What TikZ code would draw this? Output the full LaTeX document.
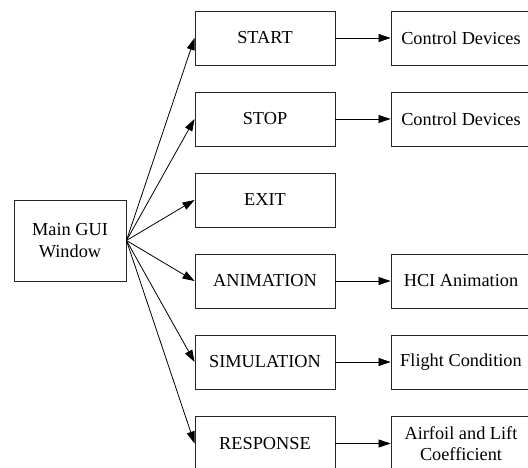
\documentclass[tikz,border=0pt]{standalone}
\usepackage{fontspec}
\setmainfont{Liberation Serif}
\usetikzlibrary{arrows.meta}
\begin{document}
\begin{tikzpicture}[x=1pt,y=-1pt,
  box/.style={draw=black!85, line width=0.9pt, minimum width=140pt, minimum height=54pt, inner sep=0pt, align=center,
    font=\fontsize{18.3}{21.5}\selectfont},
  mainbox/.style={box, minimum width=112pt, minimum height=81pt},
  arr/.style={draw=black, line width=0.8pt, -{Triangle[length=12pt,width=8pt]}}]
\clip (0,0) rectangle (528,468);
\fill[white] (0,0) rectangle (528,468);
\node[mainbox] (main) at (70,240.5) {Main GUI\\Window};
\node[box] (start) at (265,38) {START};
\node[box] (stop) at (265,119) {STOP};
\node[box] (exit) at (265,200) {EXIT};
\node[box] (anim) at (265,281) {ANIMATION};
\node[box] (sim) at (265,362) {SIMULATION};
\node[box] (resp) at (265,443.5) {RESPONSE};
\node[box] (cd1) at (461,38) {Control Devices};
\node[box] (cd2) at (461,119) {Control Devices};
\node[box] (hci) at (461,281) {HCI Animation};
\node[box] (flight) at (461,362) {Flight Condition};
\node[box] (air) at (461,443.5) {Airfoil and Lift\\Coefficient};
\foreach \t in {start,stop,exit,anim,sim,resp}
  \draw[arr] (main.east) -- (\t.west);
\draw[arr] (start) -- (cd1);
\draw[arr] (stop) -- (cd2);
\draw[arr] (anim) -- (hci);
\draw[arr] (sim) -- (flight);
\draw[arr] (resp) -- (air);
\end{tikzpicture}
\end{document}
